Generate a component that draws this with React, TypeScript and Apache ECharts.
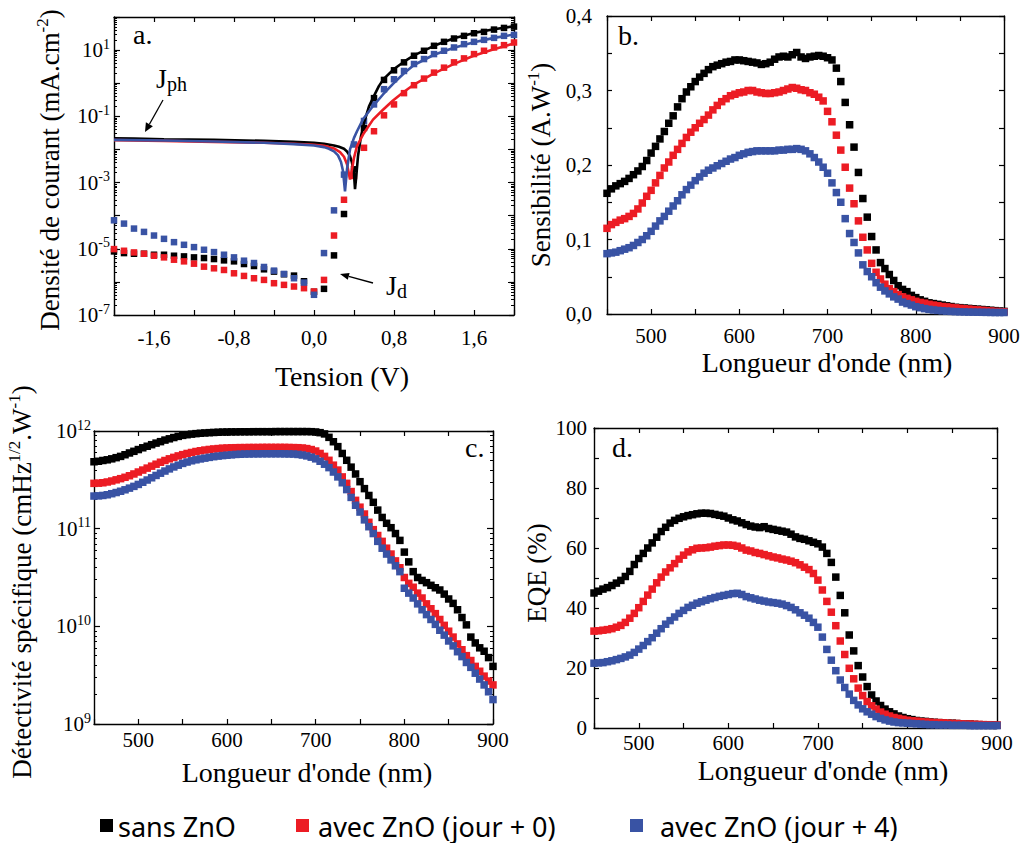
import React, { useEffect, useRef } from "react";
import * as echarts from "echarts";

// ---------------- DATA ----------------
const seriesNames = ["sans ZnO", "avec ZnO (jour + 0)", "avec ZnO (jour + 4)"];

// Panel a : dark current (squares), log10 of J (mA.cm-2)
const voltages = [-2.0, -1.9, -1.8, -1.7, -1.6, -1.5, -1.4, -1.3, -1.2, -1.1, -1.0, -0.9, -0.8, -0.7, -0.6, -0.5, -0.4, -0.3, -0.2, -0.1, 0.0, 0.1, 0.2, 0.3, 0.4, 0.5, 0.6, 0.7, 0.8, 0.9, 1.0, 1.1, 1.2, 1.3, 1.4, 1.5, 1.6, 1.7, 1.8, 1.9, 2.0];
const darkBlackLog = [-5.08, -5.13, -5.15, -5.15, -5.18, -5.18, -5.21, -5.23, -5.26, -5.28, -5.31, -5.35, -5.38, -5.46, -5.52, -5.62, -5.69, -5.77, -5.81, -5.98, -6.30, -6.21, -5.20, -3.95, -2.60, -1.35, -0.45, 0.10, 0.39, 0.63, 0.83, 0.98, 1.13, 1.25, 1.35, 1.43, 1.51, 1.55, 1.62, 1.67, 1.71];
const darkRedLog = [-5.01, -5.06, -5.11, -5.15, -5.21, -5.26, -5.33, -5.38, -5.45, -5.54, -5.59, -5.64, -5.74, -5.82, -5.89, -5.94, -6.04, -6.09, -6.14, -6.19, -6.29, -5.94, -4.60, -3.52, -2.80, -1.95, -1.45, -0.97, -0.64, -0.30, -0.06, 0.14, 0.32, 0.47, 0.63, 0.75, 0.88, 0.98, 1.08, 1.15, 1.23];
const darkBlueLog = [-4.14, -4.24, -4.39, -4.49, -4.60, -4.70, -4.80, -4.88, -4.95, -5.03, -5.10, -5.18, -5.26, -5.36, -5.43, -5.55, -5.66, -5.76, -5.89, -6.02, -6.39, -5.13, -3.84, -2.76, -1.85, -1.14, -0.64, -0.18, 0.12, 0.37, 0.58, 0.73, 0.88, 0.98, 1.08, 1.18, 1.25, 1.31, 1.37, 1.43, 1.46];

// Panel a : photocurrent (lines), voltage and log10 of J
const photoBlackV = [-2.0, -1.8, -1.5, -1.0, -0.5, -0.2, 0.0, 0.1, 0.2, 0.25, 0.3, 0.33, 0.36, 0.38, 0.4, 0.41, 0.42, 0.44, 0.47, 0.5, 0.55, 0.6, 0.65, 0.7, 0.8, 0.9, 1.0, 1.2, 1.4, 1.6, 1.8, 2.0];
const photoBlackLog = [-1.66, -1.67, -1.69, -1.71, -1.74, -1.77, -1.80, -1.83, -1.88, -1.92, -1.98, -2.06, -2.20, -2.40, -2.75, -3.20, -2.90, -2.20, -1.60, -1.20, -0.70, -0.38, -0.08, 0.14, 0.43, 0.65, 0.84, 1.13, 1.36, 1.52, 1.63, 1.72];
const photoRedV = [-2.0, -1.5, -1.0, -0.5, -0.2, 0.0, 0.1, 0.2, 0.26, 0.3, 0.33, 0.35, 0.36, 0.38, 0.4, 0.43, 0.49, 0.59, 0.69, 0.79, 0.89, 0.99, 1.19, 1.39, 1.59, 1.79, 2.0];
const photoRedLog = [-1.72, -1.74, -1.77, -1.80, -1.83, -1.86, -1.89, -1.97, -2.08, -2.22, -2.45, -2.75, -2.91, -2.60, -2.25, -1.90, -1.55, -1.10, -0.80, -0.52, -0.28, -0.06, 0.28, 0.57, 0.82, 1.02, 1.20];
const photoBlueV = [-2.0, -1.5, -1.0, -0.5, -0.2, 0.0, 0.1, 0.15, 0.2, 0.24, 0.27, 0.29, 0.31, 0.33, 0.36, 0.4, 0.43, 0.49, 0.59, 0.69, 0.79, 0.9, 1.0, 1.2, 1.4, 1.6, 1.8, 2.0];
const photoBlueLog = [-1.71, -1.73, -1.76, -1.80, -1.84, -1.88, -1.93, -1.98, -2.06, -2.18, -2.38, -2.65, -3.27, -2.60, -2.00, -1.65, -1.45, -1.09, -0.69, -0.34, -0.02, 0.30, 0.55, 0.86, 1.07, 1.24, 1.37, 1.47];

// Panels b, c, d : wavelength (nm)
const wavelengths = [450, 455, 460, 465, 470, 475, 480, 485, 490, 495, 500, 505, 510, 515, 520, 525, 530, 535, 540, 545, 550, 555, 560, 565, 570, 575, 580, 585, 590, 595, 600, 605, 610, 615, 620, 625, 630, 635, 640, 645, 650, 655, 660, 665, 670, 675, 680, 685, 690, 695, 700, 705, 710, 715, 720, 725, 730, 735, 740, 745, 750, 755, 760, 765, 770, 775, 780, 785, 790, 795, 800, 805, 810, 815, 820, 825, 830, 835, 840, 845, 850, 855, 860, 865, 870, 875, 880, 885, 890, 895, 900];

// Panel b : Sensibilité (A.W-1)
const sensBlack = [
  0.162, 0.168, 0.172, 0.175, 0.178, 0.182, 0.187, 0.192, 0.198, 0.206,
  0.216, 0.225, 0.235, 0.245, 0.256, 0.266, 0.278, 0.289, 0.298, 0.305,
  0.312, 0.318, 0.323, 0.328, 0.332, 0.334, 0.336, 0.338, 0.339, 0.341,
  0.341, 0.340, 0.339, 0.338, 0.337, 0.335, 0.336, 0.338, 0.342, 0.345,
  0.346, 0.345, 0.348, 0.351, 0.345, 0.343, 0.345, 0.346, 0.347, 0.346,
  0.344, 0.341, 0.330, 0.312, 0.284, 0.254, 0.224, 0.190, 0.155, 0.130,
  0.104, 0.086, 0.069, 0.061, 0.053, 0.045, 0.038, 0.033, 0.030, 0.025,
  0.022, 0.019, 0.017, 0.015, 0.014, 0.013, 0.012, 0.011, 0.010, 0.009,
  0.0085, 0.008, 0.0075, 0.007, 0.0065, 0.006, 0.0055, 0.005, 0.0045, 0.004,
  0.0035];
const sensRed = [
  0.115, 0.120, 0.123, 0.126, 0.128, 0.131, 0.135, 0.141, 0.149, 0.158,
  0.166, 0.176, 0.186, 0.196, 0.204, 0.213, 0.221, 0.229, 0.237, 0.244,
  0.250, 0.256, 0.261, 0.267, 0.274, 0.280, 0.285, 0.289, 0.293, 0.295,
  0.297, 0.298, 0.300, 0.300, 0.298, 0.297, 0.296, 0.296, 0.297, 0.298,
  0.300, 0.302, 0.304, 0.303, 0.301, 0.300, 0.297, 0.295, 0.291, 0.286,
  0.272, 0.258, 0.240, 0.220, 0.197, 0.169, 0.148, 0.125, 0.103, 0.086,
  0.068, 0.056, 0.047, 0.040, 0.034, 0.030, 0.026, 0.023, 0.021, 0.019,
  0.017, 0.0155, 0.0145, 0.013, 0.012, 0.011, 0.010, 0.0095, 0.0088, 0.0082,
  0.0076, 0.007, 0.0065, 0.006, 0.0055, 0.005, 0.0045, 0.004, 0.0035, 0.0032,
  0.003];
const sensBlue = [
  0.081, 0.082, 0.083, 0.085, 0.087, 0.089, 0.092, 0.096, 0.100, 0.105,
  0.111, 0.118, 0.125, 0.131, 0.138, 0.145, 0.152, 0.160, 0.167, 0.173,
  0.179, 0.184, 0.189, 0.193, 0.196, 0.199, 0.202, 0.205, 0.208, 0.210,
  0.213, 0.215, 0.217, 0.218, 0.219, 0.219, 0.219, 0.219, 0.219, 0.220,
  0.220, 0.221, 0.221, 0.222, 0.221, 0.219, 0.215, 0.210, 0.204, 0.197,
  0.189, 0.176, 0.163, 0.150, 0.128, 0.108, 0.096, 0.082, 0.066, 0.057,
  0.050, 0.042, 0.036, 0.031, 0.027, 0.023, 0.020, 0.016, 0.014, 0.012,
  0.0098, 0.0085, 0.0072, 0.0062, 0.0054, 0.0048, 0.0043, 0.0039, 0.0035, 0.0032,
  0.0030, 0.0028, 0.0026, 0.0025, 0.0024, 0.0023, 0.0022, 0.0021, 0.0020, 0.0020,
  0.0020];

// Panel c : log10 of specific detectivity (cmHz1/2.W-1)
const detBlackLog = [
  11.685, 11.690, 11.698, 11.705, 11.715, 11.727, 11.740, 11.757, 11.775, 11.792,
  11.810, 11.828, 11.844, 11.860, 11.876, 11.891, 11.907, 11.920, 11.933, 11.945,
  11.955, 11.962, 11.968, 11.973, 11.977, 11.980, 11.983, 11.985, 11.987, 11.989,
  11.990, 11.991, 11.991, 11.992, 11.992, 11.992, 11.993, 11.993, 11.993, 11.993,
  11.993, 11.994, 11.994, 11.994, 11.994, 11.994, 11.994, 11.994, 11.994, 11.993,
  11.990, 11.983, 11.970, 11.935, 11.890, 11.840, 11.770, 11.700, 11.630, 11.560,
  11.481, 11.410, 11.340, 11.270, 11.190, 11.115, 11.055, 11.010, 10.950, 10.880,
  10.760, 10.660, 10.560, 10.500, 10.470, 10.447, 10.420, 10.395, 10.372, 10.330,
  10.280, 10.235, 10.170, 10.090, 10.015, 9.890, 9.830, 9.780, 9.745, 9.680,
  9.590];
const detRedLog = [
  11.464, 11.466, 11.470, 11.478, 11.488, 11.500, 11.512, 11.526, 11.542, 11.560,
  11.580, 11.600, 11.620, 11.640, 11.660, 11.680, 11.698, 11.715, 11.730, 11.745,
  11.758, 11.770, 11.780, 11.790, 11.798, 11.805, 11.811, 11.816, 11.820, 11.824,
  11.826, 11.828, 11.829, 11.830, 11.830, 11.831, 11.831, 11.831, 11.832, 11.832,
  11.832, 11.832, 11.832, 11.832, 11.831, 11.830, 11.829, 11.826, 11.820, 11.810,
  11.795, 11.770, 11.740, 11.700, 11.650, 11.600, 11.530, 11.464, 11.380, 11.290,
  11.220, 11.150, 11.065, 10.990, 10.930, 10.870, 10.800, 10.740, 10.670, 10.600,
  10.500, 10.440, 10.400, 10.340, 10.290, 10.230, 10.180, 10.130, 10.070, 10.010,
  9.950, 9.890, 9.820, 9.760, 9.700, 9.650, 9.590, 9.540, 9.490, 9.440,
  9.400];
const detBlueLog = [
  11.334, 11.336, 11.340, 11.347, 11.358, 11.370, 11.383, 11.398, 11.415, 11.433,
  11.453, 11.475, 11.498, 11.521, 11.545, 11.568, 11.590, 11.612, 11.632, 11.650,
  11.668, 11.682, 11.695, 11.705, 11.714, 11.722, 11.730, 11.737, 11.743, 11.748,
  11.752, 11.756, 11.760, 11.762, 11.764, 11.765, 11.766, 11.766, 11.767, 11.767,
  11.767, 11.767, 11.767, 11.766, 11.765, 11.764, 11.760, 11.754, 11.745, 11.732,
  11.715, 11.690, 11.660, 11.625, 11.580, 11.530, 11.470, 11.400, 11.320, 11.240,
  11.170, 11.090, 11.020, 10.950, 10.870, 10.800, 10.740, 10.680, 10.620, 10.560,
  10.390, 10.340, 10.290, 10.230, 10.170, 10.120, 10.070, 10.020, 9.960, 9.910,
  9.850, 9.800, 9.740, 9.690, 9.630, 9.580, 9.520, 9.460, 9.400, 9.330,
  9.250];

// Panel d : EQE (%)
const eqeBlack = [
  45.0, 45.6, 46.3, 46.8, 47.5, 48.3, 49.2, 50.5, 52.2, 54.5,
  56.5, 58.2, 60.0, 61.7, 63.6, 65.5, 66.9, 68.3, 69.2, 69.9,
  70.4, 70.8, 71.1, 71.4, 71.6, 71.6, 71.5, 71.2, 70.9, 70.6,
  70.0, 69.4, 69.0, 68.4, 67.8, 67.3, 67.0, 66.8, 67.1, 66.5,
  66.2, 65.9, 65.6, 65.3, 64.6, 63.7, 63.2, 62.9, 62.4, 61.9,
  61.4, 60.3, 58.2, 55.2, 50.3, 44.2, 38.4, 31.0, 25.7, 20.8,
  17.0, 13.8, 11.0, 9.0, 7.5, 6.3, 5.4, 4.7, 4.0, 3.5,
  3.1, 2.8, 2.5, 2.3, 2.2, 2.0, 1.9, 1.8, 1.7, 1.6,
  1.6, 1.5, 1.4, 1.3, 1.3, 1.2, 1.1, 1.1, 1.0, 1.0,
  0.9];
const eqeRed = [
  32.3, 32.4, 32.6, 32.8, 33.1, 33.6, 34.2, 35.2, 36.6, 38.2,
  40.1, 42.2, 44.3, 46.3, 48.4, 50.3, 52.0, 53.4, 54.8, 56.3,
  57.6, 58.7, 59.4, 59.9, 60.0, 60.1, 60.3, 60.6, 60.8, 61.0,
  61.0, 60.9, 60.6, 60.0, 59.3, 59.0, 58.5, 58.2, 57.8, 57.4,
  57.0, 56.7, 56.3, 56.0, 55.6, 55.1, 54.4, 53.6, 52.8, 51.5,
  49.3, 46.0, 42.2, 38.6, 34.1, 29.0, 24.5, 19.9, 16.4, 13.3,
  10.8, 8.8, 7.4, 6.3, 5.3, 4.6, 4.0, 3.5, 3.2, 2.9,
  2.6, 2.4, 2.3, 2.1, 2.0, 1.9, 1.8, 1.8, 1.7, 1.6,
  1.5, 1.5, 1.4, 1.3, 1.3, 1.2, 1.2, 1.1, 1.1, 1.0,
  1.0];
const eqeBlue = [
  21.6, 21.7, 21.8, 22.1, 22.4, 22.8, 23.2, 23.7, 24.3, 25.2,
  26.3, 27.5, 28.8, 30.1, 31.6, 33.1, 34.6, 35.8, 37.0, 38.2,
  39.2, 40.2, 40.9, 41.6, 42.1, 42.6, 43.1, 43.5, 43.9, 44.2,
  44.5, 44.8, 44.9, 44.5, 43.8, 43.4, 43.0, 42.6, 42.3, 42.0,
  41.8, 41.6, 41.3, 40.8, 40.2, 39.4, 38.4, 37.6, 36.6, 35.2,
  33.6, 30.3, 26.2, 22.6, 19.1, 16.0, 13.5, 11.3, 9.2, 7.7,
  6.4, 5.4, 4.6, 3.8, 3.2, 2.7, 2.3, 2.0, 1.8, 1.7,
  1.6, 1.5, 1.4, 1.3, 1.2, 1.1, 1.1, 1.0, 1.0, 1.0,
  0.9, 0.9, 0.9, 0.9, 0.8, 0.8, 0.8, 0.8, 0.8, 0.8,
  0.8];

// ---------------- STYLE ----------------
const FONT = "Liberation Serif";
const LEG_FONT = "Noto Sans";
const COLORS = ["#000000", "#ec1c24", "#3953a4"];
const AXIS_LINE = { color: "#000", width: 1.4 };
const TICK_LINE = { color: "#000", width: 1.2 };

const comma = (v: number, d: number) => v.toFixed(d).replace(".", ",");
const pow10 = (e: number) => Math.pow(10, e);

function minorLogValues(lo: number, hi: number) {
  const out: number[] = [];
  for (let e = lo; e < hi; e++) for (let k = 2; k <= 9; k++) out.push(k * Math.pow(10, e));
  return out;
}

function xAxis(gridIndex: number, position: string, min: number, max: number, interval: number, fmt: any, margin = 10) {
  return {
    type: "value", gridIndex, position, min, max, interval,
    axisLine: { show: true, onZero: false, lineStyle: AXIS_LINE },
    axisTick: { show: true, inside: true, length: 5, lineStyle: TICK_LINE },
    axisLabel: fmt
      ? { show: true, formatter: fmt, fontFamily: FONT, fontSize: 21, color: "#000", margin }
      : { show: false },
    splitLine: { show: false },
  };
}

function yAxisLin(gridIndex: number, position: string, min: number, max: number, interval: number, fmt: any, margin = 8) {
  return {
    type: "value", gridIndex, position, min, max, interval,
    axisLine: { show: true, onZero: false, lineStyle: AXIS_LINE },
    axisTick: { show: true, inside: true, length: 5, lineStyle: TICK_LINE },
    minorTick: { show: true, splitNumber: 2, length: 5, lineStyle: TICK_LINE },
    axisLabel: fmt
      ? { show: true, formatter: fmt, fontFamily: FONT, fontSize: 21, color: "#000", margin }
      : { show: false },
    splitLine: { show: false },
    minorSplitLine: { show: false },
  };
}

const supRich = { s: { fontSize: 14, lineHeight: 14, verticalAlign: "top", fontFamily: FONT, color: "#000" } };

function yAxisLog(gridIndex: number, position: string, min: number, max: number, fmt: any, margin = 5) {
  return {
    type: "log", logBase: 10, gridIndex, position, min, max,
    axisLine: { show: true, onZero: false, lineStyle: AXIS_LINE },
    axisTick: { show: true, inside: true, length: 6, lineStyle: TICK_LINE },
    axisLabel: fmt
      ? { show: true, formatter: fmt, fontFamily: FONT, fontSize: 21, lineHeight: 26, color: "#000", margin, rich: supRich }
      : { show: false },
    splitLine: { show: false },
  };
}

function yAxisLogMinor(gridIndex: number, position: string, min: number, max: number, values: number[]) {
  return {
    type: "log", logBase: 10, gridIndex, position, min, max,
    axisLine: { show: false, onZero: false },
    axisTick: { show: true, inside: true, length: 3, lineStyle: { color: "#000", width: 1 }, customValues: values },
    axisLabel: { show: false },
    splitLine: { show: false },
  };
}

const expOf = (v: number) => Math.round(Math.log10(v));

function scatter(name: string, color: string, data: any[], xi: number, yi: number, size: number) {
  return {
    type: "scatter", name, data, xAxisIndex: xi, yAxisIndex: yi,
    symbol: "rect", symbolSize: size, itemStyle: { color, opacity: 1 },
    silent: true, clip: false,
  };
}

function line(name: string, color: string, data: any[], xi: number, yi: number) {
  return {
    type: "line", name, data, xAxisIndex: xi, yAxisIndex: yi,
    showSymbol: false, symbol: "none", smooth: false,
    lineStyle: { color, width: 2.6 }, itemStyle: { color }, silent: true,
  };
}

function titleText(text: string, x: number, y: number, rotate = false, size = 28) {
  return {
    type: "text", x, y, rotation: rotate ? Math.PI / 2 : 0, silent: true,
    style: {
      text, fill: "#000", fontFamily: FONT, fontSize: size, lineHeight: 32,
      align: "center", verticalAlign: "middle", textAlign: "center", textVerticalAlign: "middle",
      rich: { s: { fontSize: 17, lineHeight: 17, verticalAlign: "top", fontFamily: FONT, fill: "#000", color: "#000" } },
    },
  };
}

function plainText(text: string, x: number, y: number, size: number, font = FONT, rich: any = undefined) {
  return {
    type: "text", x, y, silent: true,
    style: {
      text, fill: "#000", fontFamily: font, fontSize: size, lineHeight: 30,
      align: "left", verticalAlign: "middle", textAlign: "left", textVerticalAlign: "middle",
      rich,
    },
  };
}

function buildOption() {
  const aDark = [darkBlackLog, darkRedLog, darkBlueLog];
  const aPhotoV = [photoBlackV, photoRedV, photoBlueV];
  const aPhotoL = [photoBlackLog, photoRedLog, photoBlueLog];
  const bVals = [sensBlack, sensRed, sensBlue];
  const cVals = [detBlackLog, detRedLog, detBlueLog];
  const dVals = [eqeBlack, eqeRed, eqeBlue];

  const series: any[] = [];
  // Panel a
  for (let s = 0; s < 3; s++) {
    series.push(scatter(seriesNames[s], COLORS[s], voltages.map((v, i) => [v, pow10(aDark[s][i])]), 0, 0, 6.5));
  }
  for (let s = 0; s < 3; s++) {
    series.push(line(seriesNames[s] + " (photo)", COLORS[s], aPhotoV[s].map((v, i) => [v, pow10(aPhotoL[s][i])]), 0, 0));
  }
  // Panel b
  for (let s = 0; s < 3; s++) {
    series.push(scatter(seriesNames[s], COLORS[s], wavelengths.map((w, i) => [w, bVals[s][i]]), 2, 4, 7.5));
  }
  // Panel c
  for (let s = 0; s < 3; s++) {
    series.push(scatter(seriesNames[s], COLORS[s], wavelengths.map((w, i) => [w, pow10(cVals[s][i])]), 4, 6, 7.5));
  }
  // Panel d
  for (let s = 0; s < 3; s++) {
    series.push(scatter(seriesNames[s], COLORS[s], wavelengths.map((w, i) => [w, dVals[s][i]]), 6, 10, 7.5));
  }

  const fmtV = (v: number) => {
    const r = v / 0.8;
    return Math.abs(r - Math.round(r)) < 1e-6 ? comma(v, 1) : "";
  };
  const fmtWl = (v: number) => (Math.round(v) % 100 === 0 ? String(Math.round(v)) : "");
  const fmtA = (v: number) => {
    const e = expOf(v);
    return Math.abs(e) % 2 === 1 ? `10{s|${e}}` : "";
  };
  const fmtC = (v: number) => `10{s|${expOf(v)}}`;

  const minorA = minorLogValues(-7, 2);
  const minorC = minorLogValues(9, 12);

  const arrowHeadA = [[145, 132], [152.9, 126.2], [145.9, 122.2]];
  const arrowHeadD = [[340, 274], [349.6, 273.0], [347.8, 279.8]];

  const subRich = { b: { fontSize: 20, lineHeight: 20, verticalAlign: "bottom", fontFamily: FONT, fill: "#000", color: "#000" } };

  return {
    animation: false,
    backgroundColor: "#ffffff",
    textStyle: { fontFamily: FONT },
    grid: [
      { left: 114, top: 17, width: 400, height: 298 },
      { left: 607, top: 16, width: 397, height: 298 },
      { left: 94, top: 431, width: 399, height: 293 },
      { left: 594, top: 428, width: 403, height: 300 },
    ],
    xAxis: [
      xAxis(0, "bottom", -2, 2, 0.4, fmtV, 12),
      xAxis(0, "top", -2, 2, 0.4, null),
      xAxis(1, "bottom", 450, 900, 50, fmtWl, 11),
      xAxis(1, "top", 450, 900, 50, null),
      xAxis(2, "bottom", 450, 900, 50, fmtWl, 5),
      xAxis(2, "top", 450, 900, 50, null),
      xAxis(3, "bottom", 450, 900, 50, fmtWl, 4),
      xAxis(3, "top", 450, 900, 50, null),
    ],
    yAxis: [
      yAxisLog(0, "left", 1e-7, 100, fmtA, 4),
      yAxisLog(0, "right", 1e-7, 100, null),
      yAxisLogMinor(0, "left", 1e-7, 100, minorA),
      yAxisLogMinor(0, "right", 1e-7, 100, minorA),
      yAxisLin(1, "left", 0, 0.4, 0.1, (v: number) => comma(v, 1), 15),
      yAxisLin(1, "right", 0, 0.4, 0.1, null),
      yAxisLog(2, "left", 1e9, 1e12, fmtC, 3),
      yAxisLog(2, "right", 1e9, 1e12, null),
      yAxisLogMinor(2, "left", 1e9, 1e12, minorC),
      yAxisLogMinor(2, "right", 1e9, 1e12, minorC),
      yAxisLin(3, "left", 0, 100, 20, (v: number) => String(Math.round(v)), 7),
      yAxisLin(3, "right", 0, 100, 20, null),
    ],
    series,
    graphic: {
      elements: [
        // axis titles
        titleText("Tension (V)", 342, 376),
        titleText("Longueur d'onde (nm)", 827, 362),
        titleText("Longueur d'onde (nm)", 307, 772),
        titleText("Longueur d'onde (nm)", 823, 770),
        titleText("Densité de courant (mA.cm{s|-2})", 50, 170, true, 27),
        titleText("Sensibilité (A.W{s|-1})", 541, 165, true, 27),
        titleText("Détectivité spécifique (cmHz{s|1/2}.W{s|-1})", 22, 582, true, 27),
        titleText("EQE (%)", 537, 573, true, 27),
        // panel letters
        plainText("a.", 133, 34, 28),
        plainText("b.", 618, 35.5, 28),
        plainText("c.", 465, 447, 28),
        plainText("d.", 612, 447, 28),
        // annotations
        plainText("J{b|ph}", 156, 78.5, 28, FONT, subRich),
        plainText("J{b|d}", 386, 285.5, 28, FONT, subRich),
        { type: "line", silent: true, shape: { x1: 163, y1: 100, x2: 149.4, y2: 124.2 }, style: { stroke: "#000", lineWidth: 1.3 } },
        { type: "polygon", silent: true, shape: { points: arrowHeadA }, style: { fill: "#000" } },
        { type: "line", silent: true, shape: { x1: 373, y1: 283, x2: 348.7, y2: 276.4 }, style: { stroke: "#000", lineWidth: 1.3 } },
        { type: "polygon", silent: true, shape: { points: arrowHeadD }, style: { fill: "#000" } },
        // legend
        { type: "rect", silent: true, shape: { x: 100, y: 819, width: 13, height: 13 }, style: { fill: COLORS[0] } },
        plainText(seriesNames[0], 118, 826, 27, LEG_FONT),
        { type: "rect", silent: true, shape: { x: 296, y: 819, width: 13, height: 13 }, style: { fill: COLORS[1] } },
        plainText(seriesNames[1], 318, 826, 27, LEG_FONT),
        { type: "rect", silent: true, shape: { x: 630, y: 819, width: 13, height: 13 }, style: { fill: COLORS[2] } },
        plainText(seriesNames[2], 660, 826, 27, LEG_FONT),
      ],
    },
  };
}

export default function App() {
  const ref = useRef<HTMLDivElement>(null);
  useEffect(() => {
    if (!ref.current) return;
    const chart = echarts.init(ref.current, null, { renderer: "svg" });
    chart.setOption(buildOption() as any);
    return () => chart.dispose();
  }, []);
  return (
    <div
      ref={ref}
      style={{ position: "fixed", left: 0, top: 0, width: 1024, height: 843, background: "#ffffff" }}
    />
  );
}
